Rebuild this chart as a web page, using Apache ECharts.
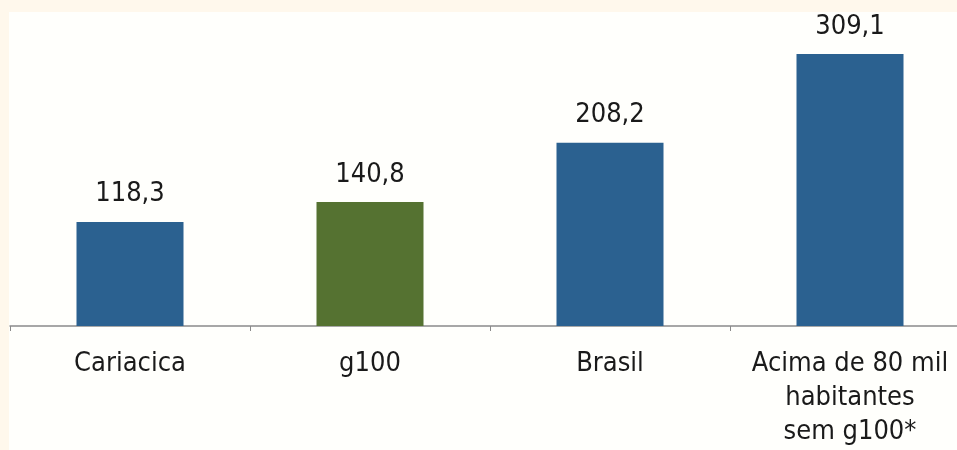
<!DOCTYPE html>
<html>
<head>
<meta charset="utf-8">
<script src="https://cdn.jsdelivr.net/npm/echarts@6/dist/echarts.min.js"></script>
<style>
  html, body { margin: 0; padding: 0; background: #fff8ec; width: 957px; height: 450px; overflow: hidden; position: relative; }
  #chart { position: absolute; left: 9px; top: 12px; width: 962px; height: 438px; background: #fffffc; }
</style>
</head>
<body>
<div id="chart"></div>
<script>
const categories = ['Cariacica', 'g100', 'Brasil', 'Acima de 80 mil\nhabitantes\nsem g100*'];
const values = [118.3, 140.8, 208.2, 309.1];
const barColors = ['#2b6190', '#557231', '#2b6190', '#2b6190'];

const FONT = "'Liberation Sans Narrow', 'DejaVu Sans Condensed', 'Roboto', sans-serif";

const chart = echarts.init(document.getElementById('chart'), null, { renderer: 'canvas' });
chart.setOption({
  animation: false,
  grid: { left: 1, right: 1, top: 6, bottom: 124, containLabel: false },
  xAxis: {
    type: 'category',
    data: categories,
    boundaryGap: true,
    axisLine: { show: true, lineStyle: { color: '#8a8a8a', width: 1.5 } },
    axisTick: { show: true, length: 5, lineStyle: { color: '#8a8a8a' } },
    axisLabel: {
      color: '#1a1a1a',
      fontFamily: FONT,
      fontSize: 27,
      lineHeight: 34,
      margin: 21,
      interval: 0
    }
  },
  yAxis: {
    type: 'value',
    min: 0,
    max: 350,
    show: false,
    splitLine: { show: false }
  },
  series: [{
    type: 'bar',
    barWidth: 107,
    data: values.map((v, i) => ({ value: v, itemStyle: { color: barColors[i] } })),
    label: {
      show: true,
      position: 'top',
      distance: 14,
      color: '#1a1a1a',
      fontFamily: FONT,
      fontSize: 27,
      formatter: p => String(p.value).replace('.', ',')
    }
  }]
});
</script>
</body>
</html>
